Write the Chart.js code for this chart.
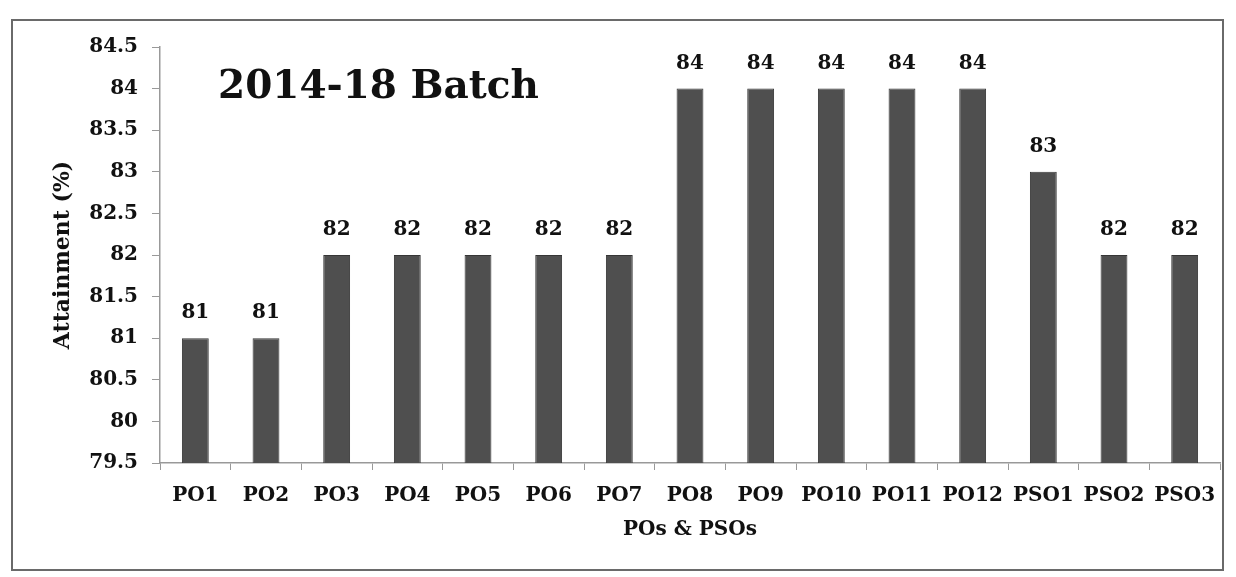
<!DOCTYPE html>
<html>
<head>
<meta charset="utf-8">
<script src="https://cdn.jsdelivr.net/npm/chart.js@4.4.1/dist/chart.umd.min.js"></script>
<style>
  html, body { margin: 0; padding: 0; background: #fff; }
  #wrap { position: relative; width: 1236px; height: 577px; }
  #frame { position: absolute; left: 11px; top: 19px; width: 1213px; height: 552px; border: 2px solid #6a6a6a; box-sizing: border-box; pointer-events: none; }
  canvas { position: absolute; left: 0; top: 0; }
</style>
</head>
<body>
<div id="wrap">
  <canvas id="chart" width="1236" height="577"></canvas>
  <div id="frame"></div>
</div>
<script>
// Datos del gráfico
const categorias = ['PO1', 'PO2', 'PO3', 'PO4', 'PO5', 'PO6', 'PO7', 'PO8', 'PO9', 'PO10', 'PO11', 'PO12', 'PSO1', 'PSO2', 'PSO3'];
const valores = [81, 81, 82, 82, 82, 82, 82, 84, 84, 84, 84, 84, 83, 82, 82];
const titulo = '2014-18 Batch';
const tituloX = 'POs & PSOs';
const tituloY = 'Attainment (%)';

const fuente = "'DejaVu Serif', serif";

// Etiquetas encima de cada barra
const etiquetas = {
    id: 'etiquetas',
    afterDatasetsDraw(chart) {
        const ctx = chart.ctx;
        const meta = chart.getDatasetMeta(0);
        ctx.save();
        ctx.fillStyle = '#111';
        ctx.font = 'bold 20px ' + fuente;
        ctx.textAlign = 'center';
        ctx.textBaseline = 'bottom';
        meta.data.forEach((bar, i) => {
            ctx.fillText(valores[i], bar.x, bar.y - 15);
        });
        ctx.restore();
    }
};

// Título dentro del área
const tituloDentro = {
    id: 'tituloDentro',
    afterDraw(chart) {
        const ctx = chart.ctx;
        const area = chart.chartArea;
        ctx.save();
        ctx.fillStyle = '#111';
        ctx.font = 'bold 39px ' + fuente;
        ctx.textAlign = 'left';
        ctx.textBaseline = 'alphabetic';
        ctx.fillText(titulo, area.left + 58, area.top + 51);
        ctx.restore();
    }
};

new Chart(document.getElementById('chart'), {
    type: 'bar',
    data: {
        labels: categorias,
        datasets: [{
            data: valores,
            backgroundColor: '#4f4f4f',
            borderColor: '#363636',
            borderWidth: 1,
            categoryPercentage: 1,
            barPercentage: 0.38
        }]
    },
    options: {
        responsive: false,
        animation: false,
        layout: {
            padding: { left: 45, top: 47, right: 16, bottom: 35 }
        },
        plugins: {
            legend: { display: false },
            tooltip: { enabled: false }
        },
        scales: {
            x: {
                grid: {
                    display: true,
                    drawOnChartArea: false,
                    drawTicks: true,
                    tickLength: 7,
                    color: '#999'
                },
                border: { color: '#999', width: 1.5 },
                ticks: {
                    color: '#111',
                    font: { family: fuente, size: 20, weight: 'bold' },
                    padding: 14,
                    maxRotation: 0,
                    autoSkip: false
                },
                title: {
                    display: true,
                    text: tituloX,
                    color: '#111',
                    font: { family: fuente, size: 20, weight: 'bold' },
                    padding: 0
                },
                afterFit(scale) { scale.height = 79; }
            },
            y: {
                min: 79.5,
                max: 84.5,
                grid: {
                    display: true,
                    drawOnChartArea: false,
                    drawTicks: true,
                    tickLength: 8,
                    color: '#999'
                },
                border: { color: '#999', width: 1.5 },
                ticks: {
                    stepSize: 0.5,
                    color: '#111',
                    font: { family: fuente, size: 20, weight: 'bold' },
                    padding: 14,
                    callback: (v) => String(v)
                },
                title: {
                    display: true,
                    text: tituloY,
                    color: '#111',
                    font: { family: fuente, size: 22, weight: 'bold' },
                    padding: 5
                },
                afterFit(scale) { scale.width = 115; }
            }
        }
    },
    plugins: [etiquetas, tituloDentro]
});
</script>
</body>
</html>
